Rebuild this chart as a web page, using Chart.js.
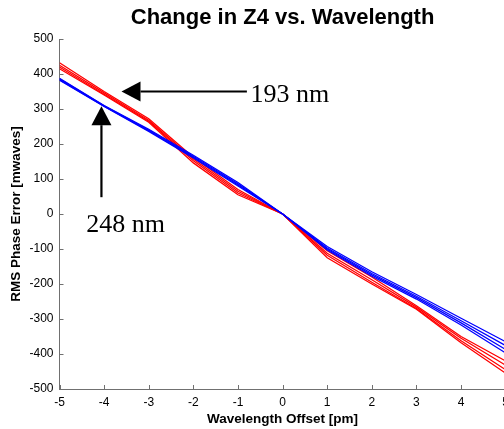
<!DOCTYPE html>
<html>
<head>
<meta charset="utf-8">
<script src="https://cdn.jsdelivr.net/npm/chart.js@4/dist/chart.umd.min.js"></script>
<style>
  html, body { margin: 0; padding: 0; background: #fff; overflow: hidden; }
  #wrap { width: 504px; height: 429px; overflow: hidden; }
</style>
</head>
<body>
<div id="wrap"><canvas id="z4Chart" width="515" height="429"></canvas></div>
<script>
// wavelength offsets [pm]
const offsets = [-5, -4, -3, -2, -1, 0, 1, 2, 3, 4, 5];

// Z4 RMS phase error [mwaves], 193 nm runs
const z4_193_a = [432, 350, 272, 162, 70, 0, -105, -180, -262, -350, -420];
const z4_193_b = [425, 346, 268, 157, 65, 0, -112, -188, -266, -355, -432];
const z4_193_c = [420, 342, 265, 152, 60, 0, -118, -195, -270, -362, -445];
const z4_193_d = [415, 340, 262, 146, 55, 0, -125, -200, -272, -368, -455];

// Z4 RMS phase error [mwaves], 248 nm runs
const z4_248_a = [388, 310, 242, 168, 90, 0, -93, -165, -230, -298, -365];
const z4_248_b = [386, 309, 240, 165, 86, 0, -97, -170, -235, -305, -376];
const z4_248_c = [384, 308, 238, 162, 83, 0, -100, -174, -239, -311, -387];
const z4_248_d = [382, 307, 236, 160, 80, 0, -103, -178, -243, -317, -397];

const xTicks = [-5, -4, -3, -2, -1, 0, 1, 2, 3, 4, 5];
const yTicks = [-500, -400, -300, -200, -100, 0, 100, 200, 300, 400, 500];

const chartTitle = 'Change in Z4 vs. Wavelength';

// callouts in data units: arrow tail -> tip, and label anchor
const label193 = { text: '193 nm', x: -0.72, y: 320 };
const arrow193 = { fromX: -0.80, fromY: 350, toX: -3.61, toY: 350 };
const label248 = { text: '248 nm', x: -4.40, y: -51 };
const arrow248 = { fromX: -4.06, fromY: 48, toX: -4.06, toY: 308 };

const sans = "'Liberation Sans', Arial, Helvetica, sans-serif";
const axisGrey = '#707070';

function toPoints(ys) {
    return offsets.map((x, i) => ({ x: x, y: ys[i] }));
}

function runSet(ys, color, order) {
    return {
        data: toPoints(ys),
        borderColor: color,
        borderWidth: 1.3,
        pointRadius: 0,
        tension: 0,
        fill: false,
        order: order
    };
}

// short tick marks pointing into the plot, MATLAB style
const innerTicks = {
    id: 'innerTicks',
    afterDraw(chart) {
        const { ctx, scales: { x, y } } = chart;
        ctx.save();
        ctx.strokeStyle = axisGrey;
        ctx.lineWidth = 1;
        ctx.beginPath();
        xTicks.forEach(v => {
            const px = Math.round(x.getPixelForValue(v)) + 0.5;
            ctx.moveTo(px, y.bottom);
            ctx.lineTo(px, y.bottom - 4);
        });
        yTicks.forEach(v => {
            const py = Math.round(y.getPixelForValue(v)) + 0.5;
            ctx.moveTo(x.left, py);
            ctx.lineTo(x.left + 4, py);
        });
        ctx.stroke();
        ctx.restore();
    }
};

// title centred over the plot area rather than the whole canvas
const plotTitle = {
    id: 'plotTitle',
    afterDraw(chart) {
        const { ctx, chartArea } = chart;
        ctx.save();
        ctx.fillStyle = '#000';
        ctx.font = 'bold 22px ' + sans;
        ctx.textAlign = 'center';
        ctx.textBaseline = 'alphabetic';
        ctx.fillText(chartTitle, (chartArea.left + chartArea.right) / 2, 24);
        ctx.restore();
    }
};

function drawArrow(ctx, x, y, a) {
    const x0 = x.getPixelForValue(a.fromX), y0 = y.getPixelForValue(a.fromY);
    const x1 = x.getPixelForValue(a.toX), y1 = y.getPixelForValue(a.toY);
    const ang = Math.atan2(y1 - y0, x1 - x0);
    const headLen = 19, headHalf = 10;
    const bx = x1 - headLen * Math.cos(ang), by = y1 - headLen * Math.sin(ang);
    ctx.beginPath();
    ctx.moveTo(x0, y0);
    ctx.lineTo(bx, by);
    ctx.lineWidth = 2.2;
    ctx.stroke();
    ctx.beginPath();
    ctx.moveTo(x1, y1);
    ctx.lineTo(bx + headHalf * Math.sin(ang), by - headHalf * Math.cos(ang));
    ctx.lineTo(bx - headHalf * Math.sin(ang), by + headHalf * Math.cos(ang));
    ctx.closePath();
    ctx.fill();
}

const callouts = {
    id: 'callouts',
    afterDraw(chart) {
        const { ctx, scales: { x, y } } = chart;
        ctx.save();
        ctx.fillStyle = '#000';
        ctx.strokeStyle = '#000';
        drawArrow(ctx, x, y, arrow193);
        drawArrow(ctx, x, y, arrow248);
        ctx.font = "26px 'Liberation Serif', 'Times New Roman', serif";
        ctx.textBaseline = 'alphabetic';
        ctx.textAlign = 'left';
        [label193, label248].forEach(l => {
            ctx.fillText(l.text, x.getPixelForValue(l.x), y.getPixelForValue(l.y));
        });
        ctx.restore();
    }
};

new Chart(document.getElementById('z4Chart'), {
    type: 'line',
    data: {
        datasets: [
            runSet(z4_248_a, '#0000ff', 0),
            runSet(z4_248_b, '#0000ff', 0),
            runSet(z4_248_c, '#0000ff', 0),
            runSet(z4_248_d, '#0000ff', 0),
            runSet(z4_193_a, '#ff0000', 1),
            runSet(z4_193_b, '#ff0000', 1),
            runSet(z4_193_c, '#ff0000', 1),
            runSet(z4_193_d, '#ff0000', 1)
        ]
    },
    options: {
        responsive: false,
        animation: false,
        layout: { padding: { top: 39, left: 0, right: 0, bottom: 0 } },
        plugins: {
            legend: { display: false },
            tooltip: { enabled: false },
            title: { display: false }
        },
        scales: {
            x: {
                type: 'linear',
                min: -5,
                max: 5,
                afterBuildTicks: s => { s.ticks = xTicks.map(v => ({ value: v })); },
                afterFit: s => { s.height = 40; },
                grid: { display: false, drawTicks: false },
                border: { display: true, color: axisGrey, width: 1 },
                ticks: { color: '#000', padding: 6, font: { family: sans, size: 12 }, maxRotation: 0 },
                title: {
                    display: true,
                    text: 'Wavelength Offset [pm]',
                    color: '#000',
                    font: { family: sans, size: 13.5, weight: 'bold' },
                    padding: { top: 0, bottom: 2 }
                }
            },
            y: {
                min: -500,
                max: 500,
                afterBuildTicks: s => { s.ticks = yTicks.map(v => ({ value: v })); },
                afterFit: s => { s.width = 59.5; },
                grid: { display: false, drawTicks: false },
                border: { display: true, color: axisGrey, width: 1 },
                ticks: { color: '#000', padding: 6, font: { family: sans, size: 12 } },
                title: {
                    display: true,
                    text: 'RMS Phase Error [mwaves]',
                    color: '#000',
                    font: { family: sans, size: 13.5, weight: 'bold' },
                    padding: { top: 8, bottom: 0 }
                }
            }
        }
    },
    plugins: [innerTicks, plotTitle, callouts]
});
</script>
</body>
</html>
